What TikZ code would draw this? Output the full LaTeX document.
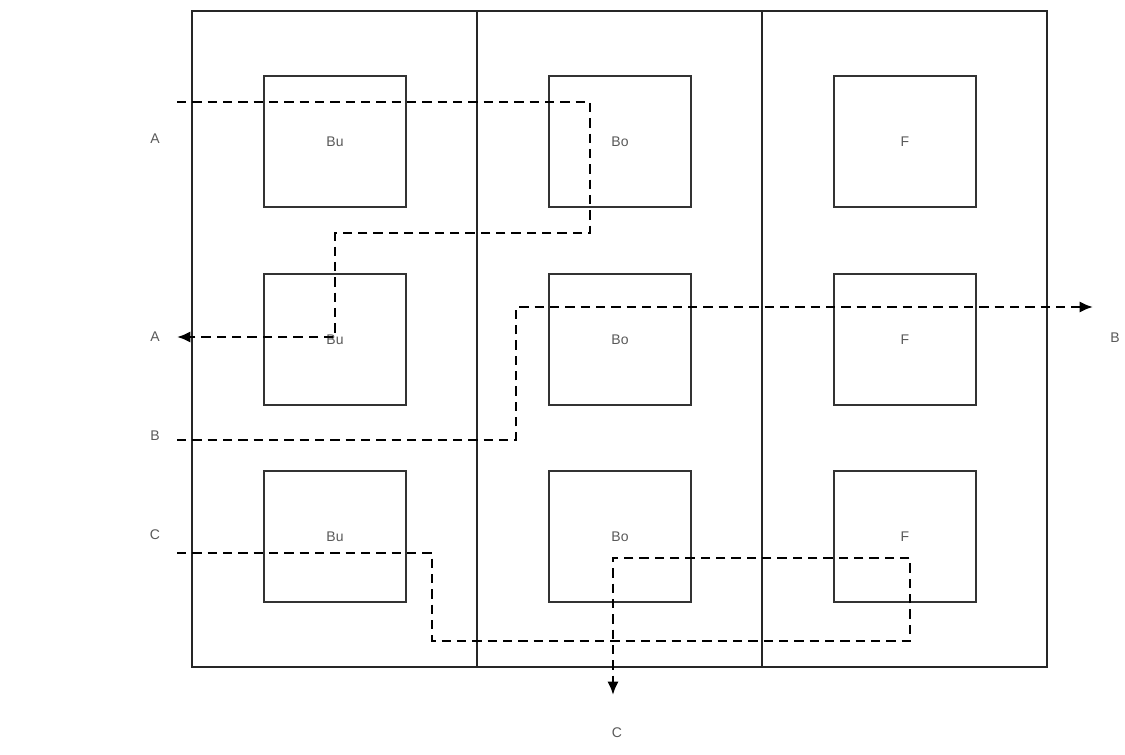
\documentclass[tikz,border=0pt]{standalone}
\usepackage{fontspec}
\setmainfont{Liberation Sans}
\usetikzlibrary{arrows.meta}
\begin{document}
\begin{tikzpicture}[x=0.75pt,y=-0.75pt,
  column/.style={draw=black!85, line width=1.5pt, minimum width=213.75pt, minimum height=492pt, inner sep=0pt},
  unit/.style={draw=black!80, line width=1.5pt, minimum width=106.5pt, minimum height=98.25pt, inner sep=0pt, text=black!65, font=\fontsize{10.5}{12}\selectfont},
  lbl/.style={text=black!65, font=\fontsize{10.5}{12}\selectfont, inner sep=0pt},
  flow/.style={draw=black, line width=1.9pt, dash pattern=on 7pt off 4.5pt},
  flowarrow/.style={flow, -{Latex[length=10pt,width=8.5pt]}}
]
\useasboundingbox (0,0) rectangle (1125,755);
\fill[white] (0,0) rectangle (1125,755);

% columns
\node[column] (col1) at (334.5,339) {};
\node[column] (col2) at (619.5,339) {};
\node[column] (col3) at (904.5,339) {};

% units
\node[unit] (bu1) at (335,142) {Bu};
\node[unit] (bu2) at (335,339.5) {Bu};
\node[unit] (bu3) at (335,536.5) {Bu};
\node[unit] (bo1) at (620,142) {Bo};
\node[unit] (bo2) at (620,339.5) {Bo};
\node[unit] (bo3) at (620,536.5) {Bo};
\node[unit] (f1) at (905,142) {F};
\node[unit] (f2) at (905,339.5) {F};
\node[unit] (f3) at (905,536.5) {F};

% side labels
\node[lbl] (la1) at (155,139) {A};
\node[lbl] (la2) at (155,337) {A};
\node[lbl] (lb1) at (155,436) {B};
\node[lbl] (lc1) at (155,535) {C};
\node[lbl] (lb2) at (1115,338) {B};
\node[lbl] (lc2) at (617,733) {C};

% path ends
\coordinate (a0) at (177,102);
\coordinate (a1) at (177,337);
\coordinate (b0) at (177,440);
\coordinate (b1) at (1093,307);
\coordinate (c0) at (177,553);
\coordinate (c1) at (613,695);

% flows
\draw[flowarrow] (a0) -- (590,102) -- (590,233) -- (335,233) -- (335,337) -- (a1);
\draw[flowarrow] (b0) -- (516,440) -- (516,307) -- (b1);
\draw[flowarrow] (c0) -- (432,553) -- (432,641) -- (910,641) -- (910,558) -- (613,558) -- (c1);
\end{tikzpicture}
\end{document}
